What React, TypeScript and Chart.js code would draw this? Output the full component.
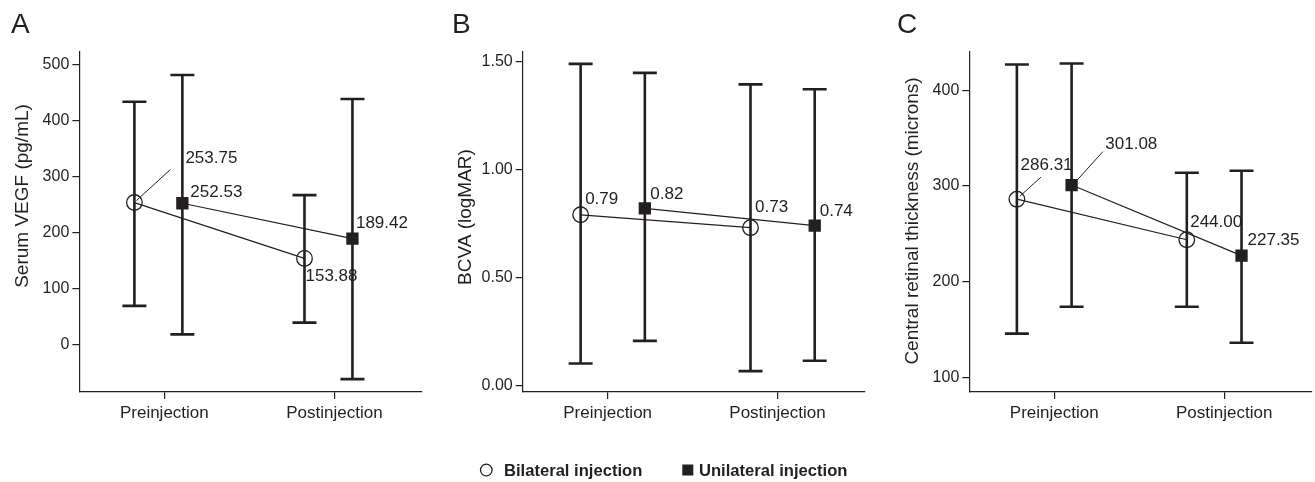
import React, { useEffect, useRef } from 'react';
import { Chart, registerables } from 'chart.js';
Chart.register(...registerables);

// ---------- data ----------
const categories = ['Preinjection', 'Postinjection'];
const seriesNames = ['Bilateral injection', 'Unilateral injection'];

// Panel A: Serum VEGF (pg/mL)
const vegfBilateral = [253.75, 153.88];
const vegfBilateralLow = [69, 39];
const vegfBilateralHigh = [434, 267];
const vegfUnilateral = [252.53, 189.42];
const vegfUnilateralLow = [18, -62];
const vegfUnilateralHigh = [482, 439];
const vegfTicks = [0, 100, 200, 300, 400, 500];

// Panel B: BCVA (logMAR)
const bcvaBilateral = [0.79, 0.73];
const bcvaBilateralLow = [0.1, 0.065];
const bcvaBilateralHigh = [1.49, 1.395];
const bcvaUnilateral = [0.82, 0.74];
const bcvaUnilateralLow = [0.205, 0.113];
const bcvaUnilateralHigh = [1.448, 1.372];
const bcvaTicks = [0, 0.5, 1.0, 1.5];

// Panel C: Central retinal thickness (microns)
const crtBilateral = [286.31, 244.0];
const crtBilateralLow = [146, 174];
const crtBilateralHigh = [427, 314];
const crtUnilateral = [301.08, 227.35];
const crtUnilateralLow = [174, 136.5];
const crtUnilateralHigh = [428, 316];
const crtTicks = [100, 200, 300, 400];

// ---------- styles / layout ----------
const INK = '#231f20';
const FONT = '"Liberation Sans", Arial, Helvetica, sans-serif';

type PanelCfg = {
  letter: string;
  letterX: number;
  yTitle: string;
  titleY: number;
  means: number[][];
  lows: number[][];
  highs: number[][];
  ticks: number[];
  tickDigits: number;
  yMin: number;
  yMax: number;
  canvasLeft: number;
  canvasWidth: number;
  axisLeft: number;
  padRight: number;
  seriesOffset: number[];
  labelOffsets: number[][][];
  leaders: (number[] | null)[][];
  legend?: boolean;
};

const panels: PanelCfg[] = [
  {
    letter: 'A', letterX: 11, yTitle: 'Serum VEGF (pg/mL)', titleY: 196,
    means: [vegfBilateral, vegfUnilateral],
    lows: [vegfBilateralLow, vegfUnilateralLow],
    highs: [vegfBilateralHigh, vegfUnilateralHigh],
    ticks: vegfTicks, tickDigits: 0, yMin: -85, yMax: 523,
    canvasLeft: 0, canvasWidth: 440, axisLeft: 79.3, padRight: 18,
    seriesOffset: [-0.176, 0.106],
    labelOffsets: [[[51, -44], [1, 18]], [[8, -11], [3.5, -15]]],
    leaders: [[[2, -2, 36, -33], null], [null, null]],
  },
  {
    letter: 'B', letterX: 452, yTitle: 'BCVA (logMAR)', titleY: 217,
    means: [bcvaBilateral, bcvaUnilateral],
    lows: [bcvaBilateralLow, bcvaUnilateralLow],
    highs: [bcvaBilateralHigh, bcvaUnilateralHigh],
    ticks: bcvaTicks, tickDigits: 2, yMin: -0.032, yMax: 1.545,
    canvasLeft: 440, canvasWidth: 440, axisLeft: 82.7, padRight: 15,
    seriesOffset: [-0.159, 0.219],
    labelOffsets: [[[4.5, -15], [4.5, -20]], [[5.5, -14], [5, -14]]],
    leaders: [[null, null], [null, null]],
    legend: true,
  },
  {
    letter: 'C', letterX: 897, yTitle: 'Central retinal thickness (microns)', titleY: 221,
    means: [crtBilateral, crtUnilateral],
    lows: [crtBilateralLow, crtUnilateralLow],
    highs: [crtBilateralHigh, crtUnilateralHigh],
    ticks: crtTicks, tickDigits: 0, yMin: 85, yMax: 440,
    canvasLeft: 880, canvasWidth: 435, axisLeft: 89.3, padRight: 3.3,
    seriesOffset: [-0.22, 0.102],
    labelOffsets: [[[3.7, -34], [3.4, -17]], [[33.7, -40.7], [6, -15]]],
    leaders: [[[3, -3, 24, -22], null], [[4.7, -4, 31.3, -33.4], null]],
  },
];

const CANVAS_H = 482;
const CHART_TOP = 52;
const CHART_BOTTOM = 392;
const CAT_POS = [0.5, 1.5];

function makeChart(canvas: HTMLCanvasElement, p: PanelCfg) {
  const decorations = {
    id: 'decorations',
    beforeDatasetsDraw(chart: any) {
      const ctx = chart.ctx;
      const xs = chart.scales.x;
      const ys = chart.scales.y;
      ctx.save();
      ctx.strokeStyle = INK;
      ctx.lineWidth = 2.6;
      ctx.lineCap = 'butt';
      p.means.forEach((_, si) => {
        CAT_POS.forEach((c, ci) => {
          const px = xs.getPixelForValue(c + p.seriesOffset[si]);
          const yl = ys.getPixelForValue(p.lows[si][ci]);
          const yh = ys.getPixelForValue(p.highs[si][ci]);
          ctx.beginPath();
          ctx.moveTo(px, yl);
          ctx.lineTo(px, yh);
          ctx.moveTo(px - 12, yl);
          ctx.lineTo(px + 12, yl);
          ctx.moveTo(px - 12, yh);
          ctx.lineTo(px + 12, yh);
          ctx.stroke();
        });
      });
      ctx.restore();
    },
    afterDraw(chart: any) {
      const ctx = chart.ctx;
      ctx.save();
      ctx.fillStyle = INK;
      ctx.strokeStyle = INK;
      // value labels
      ctx.font = `17px ${FONT}`;
      ctx.textAlign = 'left';
      ctx.textBaseline = 'middle';
      p.means.forEach((vals, si) => {
        const meta = chart.getDatasetMeta(si);
        vals.forEach((v, ci) => {
          const pt = meta.data[ci];
          const [dx, dy] = p.labelOffsets[si][ci];
          ctx.fillText(v.toFixed(2), pt.x + dx, pt.y + dy);
          const ld = p.leaders[si][ci];
          if (ld) {
            ctx.lineWidth = 1;
            ctx.beginPath();
            ctx.moveTo(pt.x + ld[0], pt.y + ld[1]);
            ctx.lineTo(pt.x + ld[2], pt.y + ld[3]);
            ctx.stroke();
          }
        });
      });
      // panel letter
      ctx.font = `28px ${FONT}`;
      ctx.textBaseline = 'alphabetic';
      ctx.fillText(p.letter, p.letterX - p.canvasLeft, 33);
      // y title
      ctx.save();
      ctx.translate(chart.chartArea.left - 57, p.titleY);
      ctx.rotate(-Math.PI / 2);
      ctx.textAlign = 'center';
      ctx.textBaseline = 'middle';
      ctx.font = `19px ${FONT}`;
      ctx.fillText(p.yTitle, 0, 0);
      ctx.restore();
      // legend
      if (p.legend) {
        const ly = 470;
        const base = -p.canvasLeft;
        ctx.lineWidth = 1.3;
        ctx.beginPath();
        ctx.arc(base + 486.3, ly, 5.8, 0, Math.PI * 2);
        ctx.stroke();
        ctx.font = `bold 16.6px ${FONT}`;
        ctx.textAlign = 'left';
        ctx.textBaseline = 'middle';
        ctx.fillText(seriesNames[0], base + 504, ly + 1);
        ctx.fillRect(base + 682.3, ly - 5.5, 11, 11);
        ctx.fillText(seriesNames[1], base + 699, ly + 1);
      }
      ctx.restore();
    },
  };

  const tickFont = { family: FONT, size: 16 };
  return new Chart(canvas, {
    type: 'scatter',
    data: {
      datasets: p.means.map((vals, si) => ({
        label: seriesNames[si],
        data: vals.map((v, ci) => ({ x: CAT_POS[ci] + p.seriesOffset[si], y: v })),
        showLine: true,
        borderColor: INK,
        borderWidth: 1.2,
        pointStyle: si === 0 ? 'circle' : 'rect',
        pointRadius: si === 0 ? 7.8 : 8.7,
        pointBackgroundColor: si === 0 ? 'rgba(0,0,0,0)' : INK,
        pointBorderColor: INK,
        pointBorderWidth: si === 0 ? 1.3 : 0,
      })),
    },
    options: {
      responsive: false,
      animation: false,
      events: [],
      layout: { autoPadding: false, padding: { top: CHART_TOP, right: p.padRight, left: 0, bottom: 0 } },
      plugins: { legend: { display: false }, tooltip: { enabled: false } },
      scales: {
        x: {
          type: 'linear',
          min: 0,
          max: 2.015,
          afterBuildTicks: (s: any) => {
            s.ticks = CAT_POS.map((v) => ({ value: v }));
          },
          afterFit: (s: any) => {
            s.height = CANVAS_H - CHART_BOTTOM;
          },
          ticks: {
            callback: (v: any) => categories[Math.round(Number(v) - 0.5)],
            font: { family: FONT, size: 17 },
            color: INK,
            padding: 4,
            maxRotation: 0,
            autoSkip: false,
          },
          grid: { drawOnChartArea: false, drawTicks: true, tickLength: 7, color: INK, lineWidth: 1.2 },
          border: { display: true, color: INK, width: 1.2 },
        },
        y: {
          type: 'linear',
          min: p.yMin,
          max: p.yMax,
          afterBuildTicks: (s: any) => {
            s.ticks = p.ticks.map((v) => ({ value: v }));
          },
          afterFit: (s: any) => {
            s.width = p.axisLeft;
          },
          ticks: {
            callback: (v: any) => Number(v).toFixed(p.tickDigits),
            font: tickFont,
            color: INK,
            padding: 3,
          },
          grid: { drawOnChartArea: false, drawTicks: true, tickLength: 7, color: INK, lineWidth: 1.2 },
          border: { display: true, color: INK, width: 1.2 },
        },
      },
    },
    plugins: [decorations],
  } as any);
}

function Panel({ cfg }: { cfg: PanelCfg }) {
  const ref = useRef<HTMLCanvasElement | null>(null);
  useEffect(() => {
    if (!ref.current) return;
    const chart = makeChart(ref.current, cfg);
    return () => chart.destroy();
  }, [cfg]);
  return (
    <canvas
      ref={ref}
      width={cfg.canvasWidth}
      height={CANVAS_H}
      style={{ position: 'absolute', left: cfg.canvasLeft, top: 0, width: cfg.canvasWidth, height: CANVAS_H }}
    />
  );
}

export default function App() {
  return (
    <div style={{ position: 'absolute', left: 0, top: 0, width: 1315, height: 482, background: '#fff', overflow: 'hidden' }}>
      {panels.map((p) => (
        <Panel key={p.letter} cfg={p} />
      ))}
    </div>
  );
}
